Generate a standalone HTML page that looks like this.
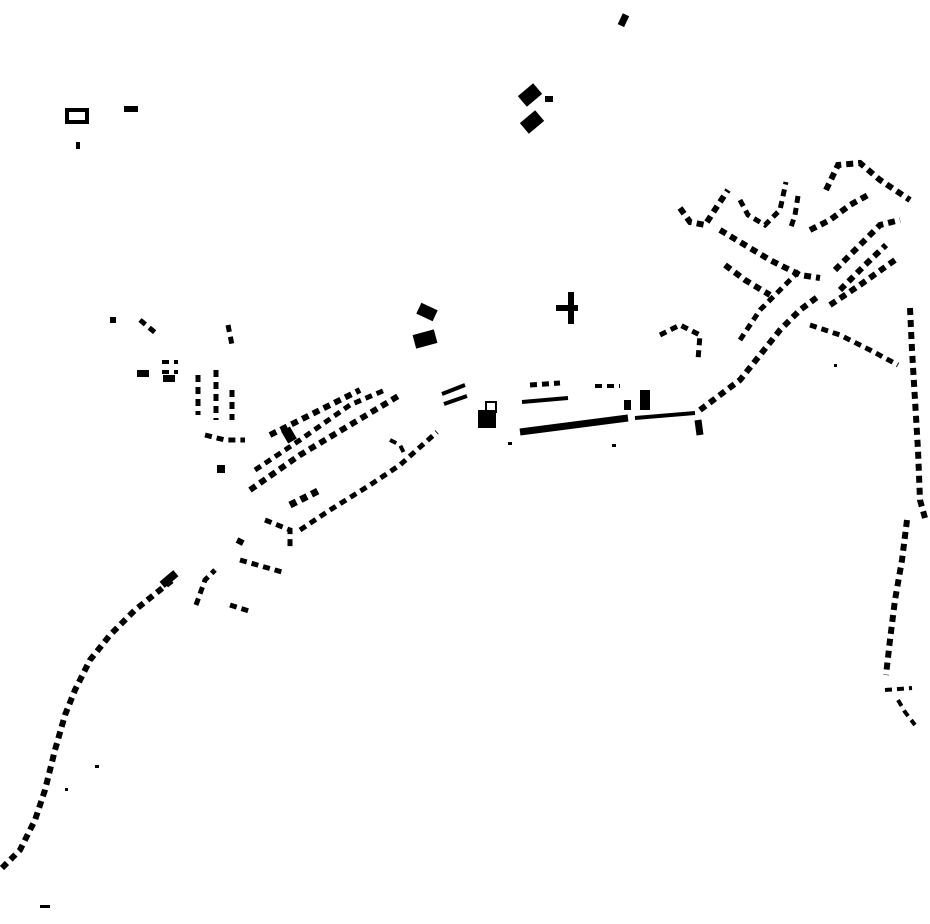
<!DOCTYPE html>
<html><head><style>html,body{margin:0;padding:0;background:#fff}svg{display:block}</style></head><body>
<svg width="930" height="924" viewBox="0 0 930 924" xmlns="http://www.w3.org/2000/svg">
<g fill="none" stroke="#000" stroke-width="6" stroke-dasharray="7 5">
<path d="M2,868 L20,850 L35,820 L45,790 L55,750 L65,715 L75,690 L90,660 L110,635 L135,610 L175,578"/>
<path d="M910,308 L912,350 L915,400 L918,450 L920,500 L925,518"/>
<path d="M907,520 L902,560 L895,600 L890,640 L886,675"/>
<path d="M885,690 L912,688" stroke-width="4"/>
<path d="M898,700 L905,712 L915,725" stroke-width="4"/>
<path d="M250,490 L300,455 L350,425 L400,395"/>
<path d="M255,470 L300,440 L350,405 L385,390" stroke-width="5"/>
<path d="M270,435 L300,420 L340,400 L360,390"/>
<path d="M300,530 L330,510 L370,485 L400,465 L437,432" stroke-width="5"/>
<path d="M290,505 L320,490" stroke-width="7"/>
<path d="M198,375 L198,415" stroke-width="5"/>
<path d="M216,370 L216,420" stroke-width="5"/>
<path d="M232,390 L232,420" stroke-width="5"/>
<path d="M205,435 L225,440 L245,440" stroke-width="5"/>
<path d="M162,362 L178,362 M162,372 L178,372" stroke-width="4"/>
<path d="M228,325 L232,345" stroke-width="5"/>
<path d="M140,320 L158,335" stroke-width="5"/>
<path d="M240,560 L282,572" stroke-width="5"/>
<path d="M196,605 L205,580 L215,570" stroke-width="5"/>
<path d="M230,605 L252,612" stroke-width="5"/>
<path d="M265,520 L290,530 L290,550" stroke-width="5"/>
<path d="M237,540 L247,545" stroke-width="6"/>
<path d="M520,432 L628,418" stroke-width="7" stroke-dasharray="none"/>
<path d="M635,418 L695,413" stroke-width="4" stroke-dasharray="none"/>
<path d="M522,402 L568,398" stroke-width="4" stroke-dasharray="none"/>
<path d="M530,385 L560,383" stroke-width="5"/>
<path d="M595,386 L620,386" stroke-width="4"/>
<path d="M442,394 L465,385 M444,404 L467,396" stroke-width="4" stroke-dasharray="none"/>
<path d="M700,410 L720,395 L740,380 L760,355 L780,330 L800,310 L820,295" stroke-width="6"/>
<path d="M740,340 L760,310 L780,290 L800,270" stroke-width="5"/>
<path d="M698,420 L700,435" stroke-width="7" stroke-dasharray="none"/>
<path d="M680,208 L690,222 L705,225 L718,205 L728,190"/>
<path d="M740,200 L748,215 L765,225 L780,210 L786,182" stroke-width="5"/>
<path d="M798,196 L795,215 L790,230" stroke-width="5"/>
<path d="M720,230 L745,245 L770,260 L800,275 L820,278"/>
<path d="M725,265 L745,280 L770,295"/>
<path d="M826,190 L838,165 L860,163 L880,180 L910,200"/>
<path d="M810,230 L830,220 L850,205 L868,195"/>
<path d="M835,270 L860,245 L880,225 L900,220"/>
<path d="M840,290 L865,265 L886,245"/>
<path d="M830,305 L860,285 L895,260"/>
<path d="M810,325 L840,335 L870,350 L898,365" stroke-width="5"/>
<path d="M660,335 L680,325 L700,335 L698,360" stroke-width="5"/>
<path d="M390,440 L400,445 L405,455" stroke-width="4"/>
</g>
<g fill="#000">
<rect x="620" y="14" width="7" height="12" transform="rotate(25 623 20)"/>
<rect x="520" y="88" width="20" height="14" transform="rotate(-40 530 95)"/>
<rect x="522" y="115" width="20" height="14" transform="rotate(-40 532 122)"/>
<rect x="545" y="96" width="8" height="6"/>
<rect x="67" y="110" width="20" height="12" fill="none" stroke="#000" stroke-width="4"/>
<rect x="124" y="106" width="14" height="6"/>
<rect x="76" y="142" width="4" height="7"/>
<rect x="418" y="306" width="18" height="12" transform="rotate(25 427 312)"/>
<rect x="414" y="332" width="22" height="14" transform="rotate(-15 425 339)"/>
<rect x="556" y="305" width="22" height="6"/>
<rect x="568" y="292" width="6" height="32"/>
<rect x="478" y="410" width="18" height="18"/>
<rect x="486" y="402" width="10" height="10" fill="none" stroke="#000" stroke-width="2"/>
<rect x="284" y="428" width="10" height="14" transform="rotate(-30 289 435)"/>
<rect x="640" y="390" width="10" height="20"/>
<rect x="624" y="400" width="7" height="10"/>
<rect x="137" y="370" width="12" height="7"/>
<rect x="163" y="375" width="12" height="7"/>
<rect x="217" y="465" width="8" height="8"/>
<rect x="160" y="575" width="18" height="8" transform="rotate(-40 169 579)"/>
<rect x="40" y="905" width="10" height="3"/>
<rect x="110" y="317" width="6" height="6"/>
<rect x="95" y="765" width="4" height="3"/>
<rect x="65" y="788" width="3" height="3"/>
<rect x="508" y="442" width="4" height="3"/>
<rect x="612" y="444" width="4" height="3"/>
<rect x="834" y="364" width="3" height="3"/>
</g>
</svg>
</body></html>
